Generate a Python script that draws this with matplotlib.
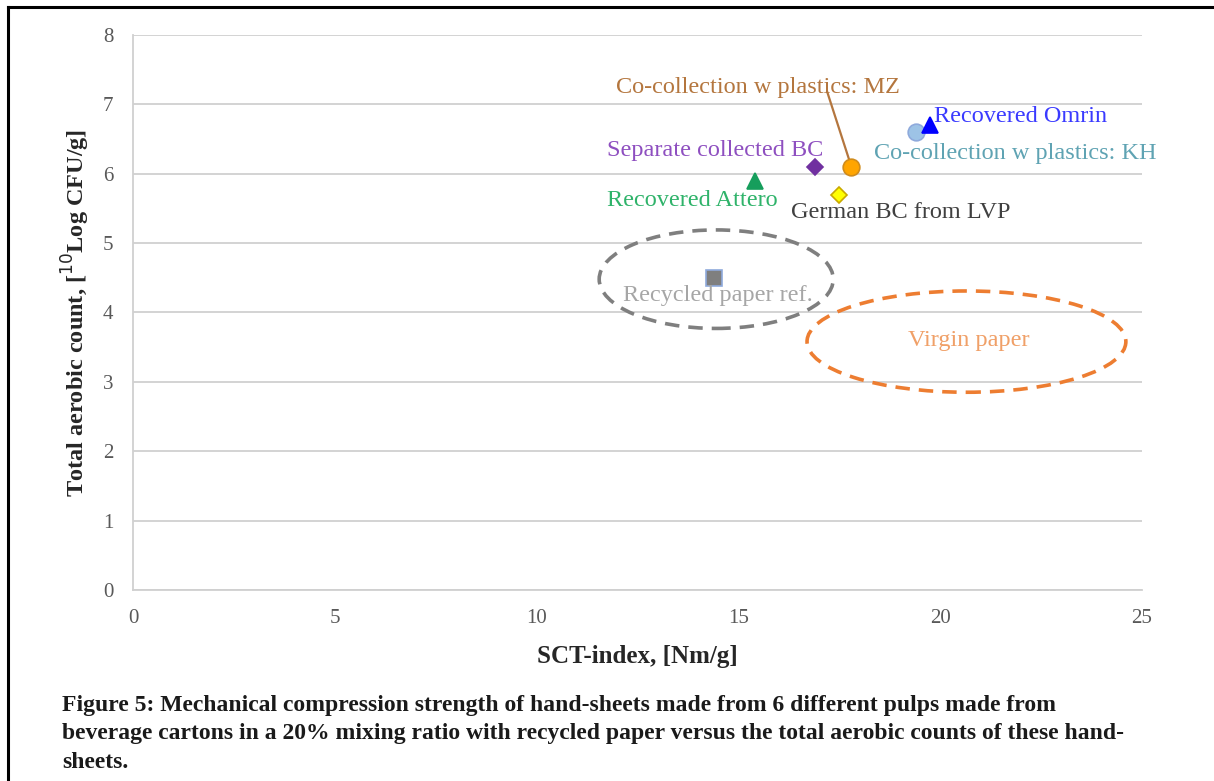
import matplotlib.pyplot as plt
from matplotlib.lines import Line2D
from matplotlib.patches import Ellipse

plt.rcParams["font.family"] = ["Liberation Serif", "DejaVu Serif"]

# pulp samples: SCT-index vs total aerobic count
SAMPLES = [
    "Recycled paper ref.",
    "Recovered Attero",
    "Separate collected BC",
    "Co-collection w plastics: MZ",
    "German BC from LVP",
    "Co-collection w plastics: KH",
    "Recovered Omrin",
]
SCT_INDEX = [14.4, 15.4, 16.9, 17.8, 17.5, 19.4, 19.75]
AEROBIC_COUNT = [4.5, 5.9, 6.1, 6.1, 5.7, 6.6, 6.7]

MARKERS = ["s", "^", "D", "o", "D", "o", "^"]
FACE_COLORS = ["#7f7f7f", "#169e5c", "#7030a0", "#ffa500", "#ffff00", "#9dc3e6", "#0000ff"]
EDGE_COLORS = ["#8faadc", "#169e5c", "#7030a0", "#d08c1c", "#c9a800", "#8faadc", "#0000ff"]
SIZES = [11, 11, 8, 12, 8, 12, 11]

LABEL_COLORS = ["#a6a6a6", "#2fb36a", "#8e4fc0", "#b4763e", "#404040", "#5fa3b3", "#3a3aff"]
LABEL_POS = [(14.5, 4.25), (13.85, 5.61), (14.42, 6.33), (15.48, 7.24), (19.03, 5.44), (21.86, 6.29), (22.0, 6.83)]

# reference regions (ellipses): center x, center y, width, height
REGION_NAMES = ["Recycled paper ref.", "Virgin paper"]
REGION_CENTERS = [(14.45, 4.48), (20.65, 3.58)]
REGION_SIZES = [(5.8, 1.42), (7.9, 1.46)]
REGION_COLORS = ["#7f7f7f", "#ed7d31"]


def main() -> None:
    fig = plt.figure(figsize=(12.14, 7.81), dpi=100)
    ax = fig.add_axes([0.1096, 0.2446, 0.8311, 0.7106])

    for (cx, cy), (w, h), color in zip(REGION_CENTERS, REGION_SIZES, REGION_COLORS):
        ax.add_patch(Ellipse((cx, cy), w, h, fill=False, edgecolor=color,
                             linestyle=(0, (4, 2.5)), linewidth=2.6, zorder=2))
    ax.text(20.7, 3.59, REGION_NAMES[1],
            color="#f0a068", fontsize=17.5, ha="center", va="center")

    # leader line for MZ label
    ax.plot([17.2, SCT_INDEX[3]], [7.18, AEROBIC_COUNT[3]], color="#b4763e", linewidth=1.6, zorder=3)

    for i, name in enumerate(SAMPLES):
        ax.plot(SCT_INDEX[i], AEROBIC_COUNT[i], marker=MARKERS[i], markersize=SIZES[i],
                markerfacecolor=FACE_COLORS[i], markeredgecolor=EDGE_COLORS[i],
                markeredgewidth=1.2, linestyle="none", zorder=4)
        lx, ly = LABEL_POS[i]
        ax.text(lx, ly, name, color=LABEL_COLORS[i], fontsize=17.5, ha="center", va="center", zorder=5)

    ax.set_xlim(0, 25)
    ax.set_ylim(0, 8)
    ax.set_xticks(range(0, 26, 5))
    ax.set_yticks(range(0, 9))
    ax.grid(axis="y", color="#d0d0d0", linewidth=1.3)
    ax.set_axisbelow(True)
    for side in ("top", "right"):
        ax.spines[side].set_visible(False)
    for side in ("left", "bottom"):
        ax.spines[side].set_color("#d0d0d0")
        ax.spines[side].set_linewidth(1.3)
    ax.tick_params(length=0, labelsize=15, labelcolor="#595959", pad=14)
    ax.set_xlabel("SCT-index, [Nm/g]", fontsize=18, fontweight="bold", color="#262626", labelpad=12)
    ax.set_ylabel(r"Total aerobic count, [$^{10}$Log CFU/g]", fontsize=17.5, fontweight="bold",
                  color="#262626", labelpad=8)

    # page frame lines (left and top)
    fig.add_artist(Line2D([0.0066, 0.0066], [0, 0.991], color="black", linewidth=2.2,
                          transform=fig.transFigure))
    fig.add_artist(Line2D([0.0066, 1.0], [0.991, 0.991], color="black", linewidth=2.2,
                          transform=fig.transFigure))

    caption = [
        "Figure 5: Mechanical compression strength of hand-sheets made from 6 different pulps made from",
        "beverage cartons in a 20% mixing ratio with recycled paper versus the total aerobic counts of these hand-",
        "sheets.",
    ]
    for k, line in enumerate(caption):
        fig.text(0.051, 1 - (706 + 28 * k) / 781, line, fontsize=17, fontweight="bold",
                 color="#1a1a1a", ha="left", va="center")

    fig.savefig("out.png", dpi=100)
    plt.close(fig)


if __name__ == "__main__":
    main()
